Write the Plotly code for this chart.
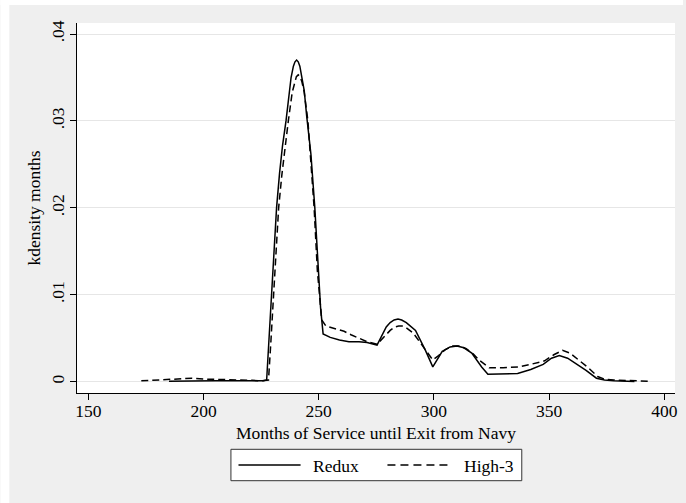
import plotly.graph_objects as go

# ---- data ----
redux_x = [185, 195, 205, 215, 222, 226, 227.4, 228.3, 229.2, 230.0, 230.8, 231.7, 233.0,
           234.3, 235.8, 237.0, 238.0, 239.0, 239.7, 240.4, 241.1, 241.8, 242.8, 243.7,
           244.8, 246.6, 248.3, 249.7, 250.8, 251.9, 255, 259, 263.1, 267.5, 271, 275.3,
           278, 279.3, 281, 282.7, 284.4, 286, 288, 292, 296.3, 299.5, 303.6, 307, 310, 313,
           316.4, 320.7, 323.4, 330, 336.3, 342, 347.4, 351, 354.4, 358, 362, 366, 370.5,
           374, 378, 382, 387]
redux_y = [0.00005, 0.0001, 0.0001, 0.0001, 0.00005, 0.0001, 0.0002, 0.0045, 0.009, 0.0128,
           0.016, 0.020, 0.024, 0.0272, 0.0300, 0.0328, 0.0350, 0.0363, 0.0368, 0.0370,
           0.0368, 0.0363, 0.0350, 0.0335, 0.0305, 0.0262, 0.020, 0.0128, 0.0085, 0.0055,
           0.0051, 0.0048, 0.0046, 0.0046, 0.0045, 0.0042, 0.0055, 0.0063, 0.0068, 0.0071,
           0.0072, 0.0071, 0.0068, 0.0059, 0.0036, 0.0017, 0.0035, 0.0040, 0.0041, 0.0039,
           0.0033, 0.0017, 0.00085, 0.0009, 0.00095, 0.0014, 0.0020, 0.0027, 0.0030, 0.0027,
           0.0020, 0.0013, 0.0004, 0.0002, 0.0001, 0.00005, 0.00002]

high3_x = [173, 180, 188, 195, 201, 206, 211, 216, 221, 225, 228.2, 229.1, 230.0, 230.9,
           231.7, 232.6, 234.0, 235.2, 236.8, 238.5, 239.5, 240.3, 241.1, 241.9, 242.7,
           243.7, 245.3, 246.2, 248.0, 249.4, 250.4, 251.3, 253.1, 256, 261, 264, 267.5,
           271, 275.3, 278, 281, 283, 284.7, 286.5, 288, 291, 294, 297, 299.5, 302, 305, 308,
           311, 314, 317, 320, 324, 330, 336.6, 342, 348, 352, 355.8, 359, 363, 367, 371,
           374, 378, 383, 388, 393.3]
high3_y = [0.0001, 0.0002, 0.00035, 0.0004, 0.0003, 0.00028, 0.00023, 0.0002, 0.00016,
           0.0001, 0.0002, 0.004, 0.0085, 0.0128, 0.0165, 0.020, 0.0238, 0.0266, 0.0300,
           0.0333, 0.0345, 0.0351, 0.0353, 0.0351, 0.0345, 0.0333, 0.0300, 0.0266, 0.020,
           0.0128, 0.0095, 0.0071, 0.0064, 0.0062, 0.0058, 0.0054, 0.0050, 0.0046, 0.0043,
           0.0051, 0.0059, 0.0063, 0.0064, 0.0064, 0.0062, 0.0056, 0.0045, 0.0033, 0.0025,
           0.0030, 0.0037, 0.0041, 0.0041, 0.0038, 0.0032, 0.0024, 0.0016, 0.0016, 0.0017,
           0.0020, 0.0024, 0.0031, 0.0036, 0.0033, 0.0025, 0.0016, 0.0006, 0.0003, 0.0002,
           0.00015, 0.0001, 0.00005]

x_ticks = [150, 200, 250, 300, 350, 400]
y_ticks = [0, 0.01, 0.02, 0.03, 0.04]
y_ticktext = ["0", ".01", ".02", ".03", ".04"]
series_names = ["Redux", "High-3"]
x_title = "Months of Service until Exit from Navy"
y_title = "kdensity months"

# ---- layout constants (pixels) ----
W, H = 686, 503
ML, MR, MT, MB = 77, 8, 23, 110
PW, PH = W - ML - MR, H - MT - MB
FONT = "Liberation Serif, Times New Roman, serif"
BG = "#EFEFEF"


def px_x(p):
    return (p - ML) / PW


def px_y(p):
    return (H - MB - p) / PH


fig = go.Figure()
fig.add_trace(go.Scatter(x=redux_x, y=redux_y, mode="lines", name=series_names[0],
                         line=dict(color="black", width=1.5), showlegend=False))
fig.add_trace(go.Scatter(x=high3_x, y=high3_y, mode="lines", name=series_names[1],
                         line=dict(color="black", width=1.5, dash="7px,4px"),
                         showlegend=False))

axis_font = dict(family=FONT, size=17.5, color="black")

fig.update_layout(
    width=W, height=H,
    margin=dict(l=ML, r=MR, t=MT, b=MB, pad=0),
    paper_bgcolor=BG, plot_bgcolor="white",
    font=axis_font,
    showlegend=False,
    xaxis=dict(range=[145.1, 404.6], tickvals=x_ticks, ticks="outside", ticklen=6,
               tickcolor="black", tickwidth=1, showgrid=False, zeroline=False,
               showline=True, linecolor="black", linewidth=1, tickfont=axis_font,
               ticklabelstandoff=-4),
    yaxis=dict(range=[-0.0013, 0.04127], tickvals=y_ticks, ticktext=y_ticktext,
               tickangle=-90, ticks="outside", ticklen=6, tickcolor="black", tickwidth=1,
               showgrid=True, gridcolor="#E6E6E6", gridwidth=1, zeroline=True,
               zerolinecolor="#E6E6E6", zerolinewidth=1, showline=True, linecolor="black",
               linewidth=1, tickfont=axis_font, ticklabelstandoff=-1,
               title=dict(text=y_title, font=axis_font, standoff=2)),
)

shapes = []
# white page margins (top & left strips)
shapes.append(dict(type="rect", xref="paper", yref="paper", x0=px_x(0), x1=px_x(W),
                   y0=px_y(5), y1=px_y(0), fillcolor="white", line=dict(width=0),
                   layer="above"))
shapes.append(dict(type="rect", xref="paper", yref="paper", x0=px_x(0), x1=px_x(9),
                   y0=px_y(H), y1=px_y(0), fillcolor="white", line=dict(width=0),
                   layer="above"))
# legend box
shapes.append(dict(type="rect", xref="paper", yref="paper", x0=px_x(231.7), x1=px_x(524),
                   y0=px_y(480.7), y1=px_y(449.3), fillcolor="white",
                   line=dict(color="#333333", width=1), layer="above"))
ly = px_y(465)
shapes.append(dict(type="line", xref="paper", yref="paper", x0=px_x(239.3), x1=px_x(301.7),
                   y0=ly, y1=ly, line=dict(color="black", width=1.5), layer="above"))
shapes.append(dict(type="line", xref="paper", yref="paper", x0=px_x(389), x1=px_x(454),
                   y0=ly, y1=ly, line=dict(color="black", width=1.5, dash="8px,5px"),
                   layer="above"))
fig.update_layout(shapes=shapes)

# x-axis title (placed as text below the tick labels)
fig.add_annotation(text=x_title, xref="paper", yref="paper", x=0.5, y=px_y(433),
                   xanchor="center", yanchor="middle", showarrow=False, font=axis_font)
fig.add_annotation(text=series_names[0], xref="paper", yref="paper", x=px_x(312.5),
                   y=px_y(466), xanchor="left", yanchor="middle", showarrow=False,
                   font=axis_font)
fig.add_annotation(text=series_names[1], xref="paper", yref="paper", x=px_x(463.5),
                   y=px_y(466), xanchor="left", yanchor="middle", showarrow=False,
                   font=axis_font)

fig.write_html("out.html")
